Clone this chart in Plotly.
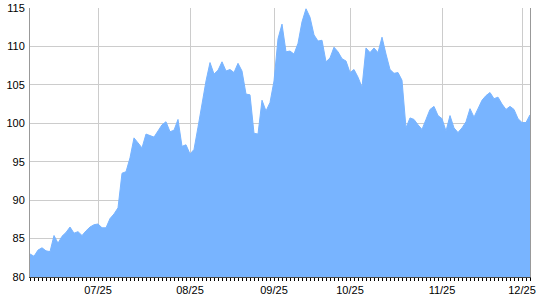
import plotly.graph_objects as go

values = [
    83.0, 82.7, 83.5, 83.8, 83.4, 83.3, 85.4, 84.4, 85.3, 85.8,
    86.5, 85.7, 85.9, 85.4, 86.0, 86.5, 86.8, 86.9, 86.4, 86.4,
    87.6, 88.2, 89.0, 93.5, 93.7, 95.5, 98.1, 97.5, 96.8, 98.6,
    98.4, 98.2, 99.0, 99.8, 100.2, 98.9, 99.1, 100.5, 97.0, 97.2,
    96.0, 96.6, 99.5, 102.5, 105.5, 107.9, 106.4, 106.9, 108.0, 106.8,
    107.0, 106.6, 107.8, 106.8, 103.8, 103.7, 98.7, 98.6, 103.0, 101.6,
    102.7, 105.5, 111.0, 112.9, 109.3, 109.4, 109.0, 110.4, 113.2, 114.9,
    113.8, 111.5, 110.7, 110.8, 108.0, 108.5, 109.9, 109.3, 108.4, 108.1,
    106.6, 107.0, 106.0, 104.7, 109.8, 109.2, 109.8, 109.2, 111.2, 109.0,
    107.0, 106.5, 106.6, 105.6, 99.4, 100.7, 100.5, 99.8, 99.2, 100.5,
    101.8, 102.2, 101.0, 100.6, 99.0, 101.0, 99.4, 98.8, 99.4, 100.2,
    101.9, 100.8, 101.8, 103.0, 103.6, 104.0, 103.2, 103.4, 102.5, 101.8,
    102.2, 101.8, 100.6, 100.1, 100.1, 101.1,
]
month_labels = ["07/25", "08/25", "09/25", "10/25", "11/25", "12/25"]
month_index = [17, 40, 61, 80, 103, 123]
y_ticks = [80, 85, 90, 95, 100, 105, 110, 115]

x = list(range(len(values)))
fill_color = "rgb(120,180,255)"

fig = go.Figure()
fig.add_trace(go.Scatter(
    x=x, y=values, mode="lines", fill="tozeroy",
    fillcolor=fill_color, line=dict(color=fill_color, width=1),
    hoverinfo="skip", showlegend=False,
))

fig.update_layout(
    width=540, height=300,
    margin=dict(l=30, r=10, t=8, b=23),
    paper_bgcolor="white", plot_bgcolor="white",
    font=dict(family="Liberation Sans, Arial, sans-serif", size=11, color="#000"),
    xaxis=dict(
        range=[0, len(values) - 1],
        tickmode="array", tickvals=month_index, ticktext=month_labels,
        showgrid=True, gridcolor="#cccccc", gridwidth=1,
        ticks="outside", ticklen=3, tickcolor="black",
        showline=True, linecolor="#444444", linewidth=1,
        minor=dict(tickmode="linear", tick0=0, dtick=1, ticks="outside",
                   ticklen=3, tickcolor="black", showgrid=False),
        zeroline=False, fixedrange=True, automargin=False,
    ),
    yaxis=dict(
        range=[80, 115],
        tickmode="array", tickvals=y_ticks,
        showgrid=True, gridcolor="#cccccc", gridwidth=1,
        ticks="", ticklabelstandoff=2,
        showline=True, linecolor="#999999", linewidth=1, mirror=True,
        zeroline=False, fixedrange=True, automargin=False,
    ),
)

fig.write_html("out.html")
